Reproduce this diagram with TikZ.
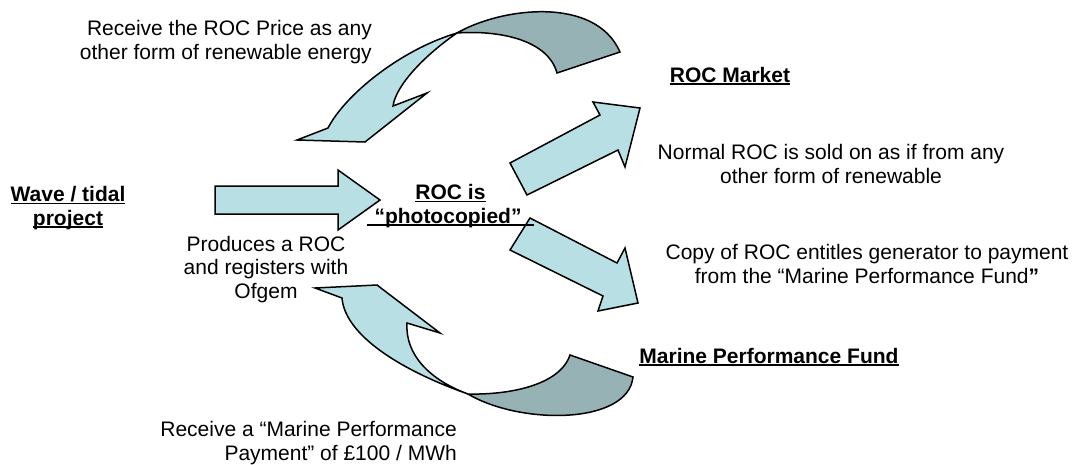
\documentclass[tikz,border=0pt]{standalone}
\usepackage{fontspec}
\setmainfont{Liberation Sans}
\definecolor{lite}{RGB}{184,224,228}
\definecolor{darkribbon}{RGB}{150,178,181}
\newcommand{\myul}[1]{\setbox0\hbox{#1}\rlap{\rule[-2.8pt]{\wd0}{1.8pt}}\box0}
\begin{document}
\begin{tikzpicture}[x=1pt,y=-1pt,
  txt/.style={font=\fontsize{21}{23.5}\selectfont, inner sep=0pt, align=center, anchor=base},
  txtb/.style={txt, font=\fontsize{21}{23.5}\selectfont\bfseries},
  blk/.style={fill=lite, draw=black, line width=1.5pt, line join=miter, miter limit=10},
  back/.style={blk, fill=darkribbon}]
\useasboundingbox (0,0) rectangle (1077,464);

% straight block arrows
\draw[blk] (215,186) -- (338,186) -- (338,170) -- (380,200) -- (338,230) -- (338,214) -- (215,214) -- cycle;
\draw[blk] (527,195) -- (510,163) -- (600,115) -- (593,102) -- (640,108) -- (625,167) -- (618,150) -- cycle;
\draw[blk] (530,218) -- (617,263) -- (625,248) -- (638,303) -- (598,311) -- (603,296) -- (510,250) -- cycle;

% top curved arrow
\coordinate (tc) at (457,33);
\draw[back] (tc) .. controls (500,8) and (595,-5) .. (620,52) -- (557,73) .. controls (548,40) and (500,30) .. (tc) -- cycle;
\draw[blk] (tc) .. controls (400,50) and (345,95) .. (328,128) -- (297,140) -- (365,142) -- (427,93) -- (393,106) .. controls (396,85) and (425,55) .. (tc) -- cycle;

% bottom curved arrow
\coordinate (bc) at (468,394);
\draw[back] (bc) .. controls (520,425) and (628,425) .. (633,377) -- (570,355) .. controls (560,385) and (510,395) .. (bc) -- cycle;
\draw[blk] (bc) .. controls (400,370) and (345,335) .. (342,298) -- (315,288) -- (377,285) -- (440,333) -- (407,323) .. controls (405,355) and (430,380) .. (bc) -- cycle;

% texts
\node[txt, align=right, anchor=base east] (recroc) at (372,59) {Receive the ROC Price as any\\other form of renewable energy};
\node[txtb] (wave) at (68,225) {\myul{Wave / tidal}\\\myul{project}};
\node[txt] (prod) at (266,298) {Produces a ROC\\and registers with\\Ofgem};
\node[txtb] (photo) at (450.5,223) {\myul{ROC is}\hspace{5pt}\\\myul{\hspace{8pt}“photocopied”\hspace{13pt}}};
\node[txtb] (mkt) at (730,82) {\myul{ROC Market}};
\node[txt] (norm) at (831,183) {Normal ROC is sold on as if from any\\other form of renewable};
\node[txt] (copy) at (867,283) {Copy of ROC entitles generator to payment\\from the “Marine Performance Fund\textbf{”}};
\node[txtb] (mpf) at (769,363) {\myul{Marine Performance Fund}};
\node[txt, align=right, anchor=base east] (recmp) at (457,460) {Receive a “Marine Performance\\Payment” of £100 / MWh};
\end{tikzpicture}
\end{document}
